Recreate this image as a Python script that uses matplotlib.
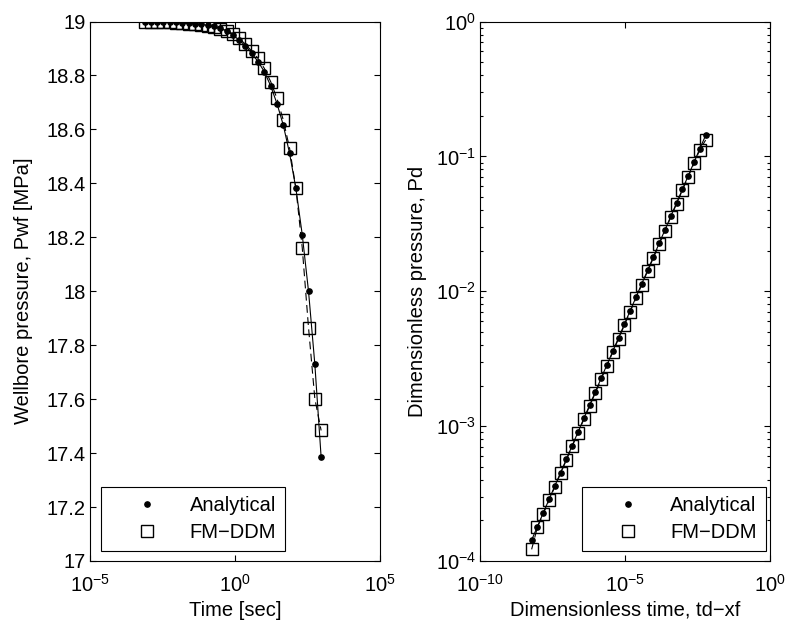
import numpy as np
import matplotlib
matplotlib.use("Agg")
import matplotlib.pyplot as plt
from matplotlib.lines import Line2D
from matplotlib.ticker import LogLocator, NullLocator, FixedLocator, NullFormatter

plt.rcParams['font.family'] = ['Liberation Sans', 'DejaVu Sans']
plt.rcParams['mathtext.fontset'] = 'custom'
plt.rcParams['mathtext.rm'] = 'Liberation Sans'
plt.rcParams['mathtext.it'] = 'Liberation Sans:italic'
FS = 14.5
plt.rcParams['font.size'] = FS

# left panel: wellbore pressure vs time
time_s = [7.59e-4, 1.25e-3, 2.07e-3, 3.41e-3, 5.62e-3, 9.28e-3, 0.0153, 0.0253,
          0.0417, 0.0688, 0.1135, 0.187, 0.309, 0.510, 0.841, 1.39, 2.29, 3.78,
          6.24, 10.3, 17.0, 28.0, 46.2, 76.3, 126.0, 208.0, 343.0, 566.0, 933.0]
pwf_analytical = [18.999, 18.999, 18.999, 18.999, 18.999, 18.997, 18.996, 18.994,
                  18.991, 18.989, 18.986, 18.982, 18.975, 18.965, 18.950, 18.931,
                  18.910, 18.882, 18.851, 18.814, 18.761, 18.696, 18.616, 18.511,
                  18.381, 18.210, 18.000, 17.730, 17.385]
pwf_fmddm = [18.999, 18.999, 18.999, 18.999, 18.998, 18.996, 18.994, 18.992,
             18.990, 18.987, 18.984, 18.980, 18.974, 18.966, 18.955, 18.937,
             18.916, 18.890, 18.863, 18.826, 18.777, 18.715, 18.635, 18.530,
             18.381, 18.162, 17.865, 17.602, 17.484]

# right panel: dimensionless pressure vs dimensionless time
td = [6.03e-9, 9.55e-9, 1.51e-8, 2.40e-8, 3.80e-8, 6.03e-8, 9.55e-8, 1.51e-7,
      2.40e-7, 3.80e-7, 6.03e-7, 9.55e-7, 1.51e-6, 2.40e-6, 3.80e-6, 6.03e-6,
      9.55e-6, 1.51e-5, 2.40e-5, 3.80e-5, 6.03e-5, 9.55e-5, 1.51e-4, 2.40e-4,
      3.80e-4, 6.03e-4, 9.55e-4, 1.51e-3, 2.40e-3, 3.80e-3, 6.03e-3]
pd_analytical = [1.43e-4, 1.80e-4, 2.27e-4, 2.86e-4, 3.60e-4, 4.53e-4, 5.70e-4,
                 7.18e-4, 9.04e-4, 1.14e-3, 1.43e-3, 1.80e-3, 2.27e-3, 2.86e-3,
                 3.60e-3, 4.53e-3, 5.70e-3, 7.18e-3, 9.04e-3, 1.14e-2, 1.43e-2,
                 1.80e-2, 2.27e-2, 2.86e-2, 3.60e-2, 4.53e-2, 5.70e-2, 7.18e-2,
                 9.04e-2, 0.114, 0.143]
pd_fmddm = [1.22e-4, 1.78e-4, 2.23e-4, 2.82e-4, 3.55e-4, 4.46e-4, 5.62e-4,
            7.08e-4, 8.91e-4, 1.12e-3, 1.41e-3, 1.77e-3, 2.23e-3, 2.81e-3,
            3.54e-3, 4.46e-3, 5.61e-3, 7.06e-3, 8.89e-3, 1.12e-2, 1.41e-2,
            1.77e-2, 2.23e-2, 2.81e-2, 3.54e-2, 4.46e-2, 5.61e-2, 7.06e-2,
            8.89e-2, 0.112, 0.132]

legend_labels = ['Analytical', 'FM\u2212DDM']

fig = plt.figure(figsize=(7.86, 6.26), dpi=100)
ax1 = fig.add_axes([90/786, 65/626, 290/786, 539.5/626])
ax2 = fig.add_axes([480/786, 65/626, 290/786, 539.5/626])

dot_kw = dict(color='k', marker='o', markersize=3.8, lw=0.8, ls='-')
sq_kw = dict(color='k', marker='s', markersize=9, mfc='none', mew=1.0, lw=0.8,
             ls=(0, (7, 4)))

ax1.plot(time_s, pwf_analytical, **dot_kw)
ax1.plot(time_s, pwf_fmddm, **sq_kw)
ax2.plot(td, pd_analytical, **dot_kw)
ax2.plot(td, pd_fmddm, **sq_kw)

ax1.set_xscale('log')
ax1.set_xlim(1e-5, 1e5)
ax1.set_ylim(17, 19)
ax1.xaxis.set_major_locator(FixedLocator([1e-5, 1e0, 1e5]))
ax1.xaxis.set_minor_locator(NullLocator())
ax1.set_yticks(np.arange(17, 19.01, 0.2))
ax1.set_yticklabels(['%g' % v for v in np.round(np.arange(17, 19.01, 0.2), 1)])
ax1.set_xlabel('Time [sec]', labelpad=4)
ax1.set_ylabel('Wellbore pressure, Pwf [MPa]', labelpad=10)

ax2.set_xscale('log')
ax2.set_yscale('log')
ax2.set_xlim(1e-10, 1e0)
ax2.set_ylim(1e-4, 1e0)
ax2.xaxis.set_major_locator(FixedLocator([1e-10, 1e-5, 1e0]))
ax2.xaxis.set_minor_locator(NullLocator())
ax2.yaxis.set_major_locator(LogLocator(base=10, numticks=10))
ax2.yaxis.set_minor_locator(LogLocator(base=10, subs=np.arange(2, 10), numticks=10))
ax2.yaxis.set_minor_formatter(NullFormatter())
ax2.set_xlabel('Dimensionless time, td\u2212xf', labelpad=4)
ax2.set_ylabel('Dimensionless pressure, Pd', labelpad=6)

handles = [Line2D([], [], color='k', marker='o', markersize=3.8, ls='none'),
           Line2D([], [], color='k', marker='s', markersize=9, mfc='none', mew=1.0, ls='none')]

for ax, loc, anchor in [(ax1, 'lower left', (0.038, 0.0185)),
                        (ax2, 'lower right', (0.986, 0.0185))]:
    for s in ax.spines.values():
        s.set_linewidth(0.8)
    ax.tick_params(which='both', direction='in', top=True, right=True,
                   width=0.8, labelsize=FS)
    ax.tick_params(axis='x', pad=9)
    ax.tick_params(axis='y', pad=3)
    ax.tick_params(which='major', length=4.5)
    ax.tick_params(which='minor', length=2.2)
    leg = ax.legend(handles, legend_labels, loc=loc, bbox_to_anchor=anchor,
                    borderaxespad=0, fancybox=False, framealpha=1,
                    edgecolor='k', handlelength=3.7, handletextpad=0.25,
                    borderpad=0.45, labelspacing=0.4, fontsize=FS)
    leg.get_frame().set_linewidth(0.8)

fig.savefig('out.png', dpi=100)
